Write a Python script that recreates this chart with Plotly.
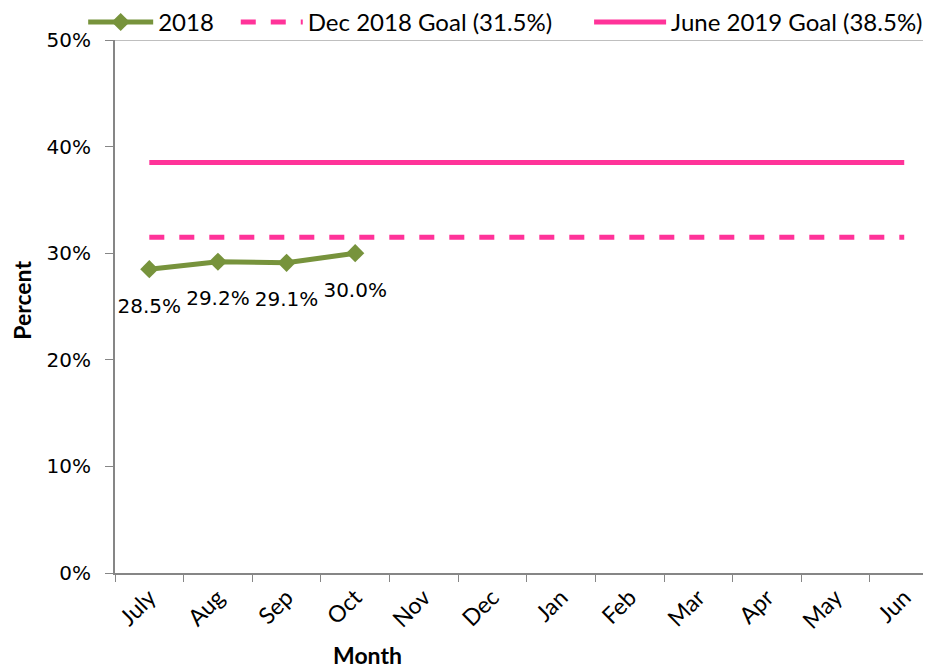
import plotly.graph_objects as go

# data
months = ['July', 'Aug', 'Sep', 'Oct', 'Nov', 'Dec', 'Jan', 'Feb', 'Mar', 'Apr', 'May', 'Jun']
actual_2018 = [0.285, 0.292, 0.291, 0.300]
dec_goal = [0.315] * 12
june_goal = [0.385] * 12

green = '#77933C'
pink = '#FF3399'
axis_grey = '#868686'
label_font = 'Lato, Carlito, sans-serif'

fig = go.Figure()

fig.add_trace(go.Scatter(
    x=months[:len(actual_2018)], y=actual_2018,
    mode='lines+markers',
    name='2018',
    line=dict(color=green, width=5),
    marker=dict(symbol='diamond', size=14, color=green),
    legend='legend',
))

# value labels sit well below the points, so they get their own invisible markers
fig.add_trace(go.Scatter(
    x=months[:len(actual_2018)], y=actual_2018,
    mode='markers+text',
    marker=dict(size=44, opacity=0),
    text=[f'{v*100:.1f}%' for v in actual_2018],
    textposition='bottom center',
    textfont=dict(family='DejaVu Sans', size=20, color='black'),
    showlegend=False, hoverinfo='skip',
))

fig.add_trace(go.Scatter(
    x=months, y=dec_goal, mode='lines',
    name='Dec 2018 Goal (31.5%)',
    line=dict(color=pink, width=5, dash='dash'),
    legend='legend2',
))

fig.add_trace(go.Scatter(
    x=months, y=june_goal, mode='lines',
    name='June 2019 Goal (38.5%)',
    line=dict(color=pink, width=5),
    legend='legend3',
))

legend_style = dict(
    orientation='h', y=1.033, xanchor='left', yanchor='middle',
    font=dict(family=label_font, size=24, color='black'),
    bgcolor='rgba(0,0,0,0)',
)

# page body adds an 8px offset, so the figure is 8px smaller than the window
fig.update_layout(
    width=923, height=660,
    margin=dict(l=107, r=0, t=32, b=95, autoexpand=False),
    paper_bgcolor='white',
    plot_bgcolor='white',
    showlegend=True,
    legend=dict(legend_style, x=-0.039, itemwidth=65),
    legend2=dict(legend_style, x=0.148, itemwidth=62),
    legend3=dict(legend_style, x=0.581, itemwidth=72),
    xaxis=dict(
        categoryorder='array', categoryarray=months,
        range=[-0.5, 11.39],
        automargin=False,
        showline=True, linecolor=axis_grey, linewidth=2,
        ticks='outside', tickson='boundaries', ticklen=7, tickcolor=axis_grey, tickwidth=1,
        tickangle=-45,
        tickfont=dict(family=label_font, size=23, color='black'),
        showgrid=False, zeroline=False,
    ),
    yaxis=dict(
        range=[0, 0.5],
        automargin=False,
        tickvals=[0, 0.1, 0.2, 0.3, 0.4, 0.5],
        tickformat='.0%',
        showline=True, linecolor=axis_grey, linewidth=2,
        ticks='outside', ticklen=8, tickcolor=axis_grey, tickwidth=1,
        ticklabelstandoff=10,
        tickfont=dict(family='DejaVu Sans', size=20, color='black'),
        showgrid=False, zeroline=False,
    ),
    annotations=[
        dict(
            text='<b>Month</b>', x=0.31, y=-0.154, xref='paper', yref='paper',
            xanchor='center', yanchor='middle', showarrow=False,
            font=dict(family=label_font, size=23, color='black'),
        ),
        dict(
            text='<b>Percent</b>', x=-0.115, y=0.511, xref='paper', yref='paper',
            xanchor='center', yanchor='middle', showarrow=False, textangle=-90,
            font=dict(family=label_font, size=23, color='black'),
        ),
    ],
    shapes=[dict(
        type='line', xref='paper', yref='y', x0=0, x1=1, y0=0.5, y1=0.5,
        line=dict(color='#BFBFBF', width=2),
    )],
)

fig.write_html('out.html')
